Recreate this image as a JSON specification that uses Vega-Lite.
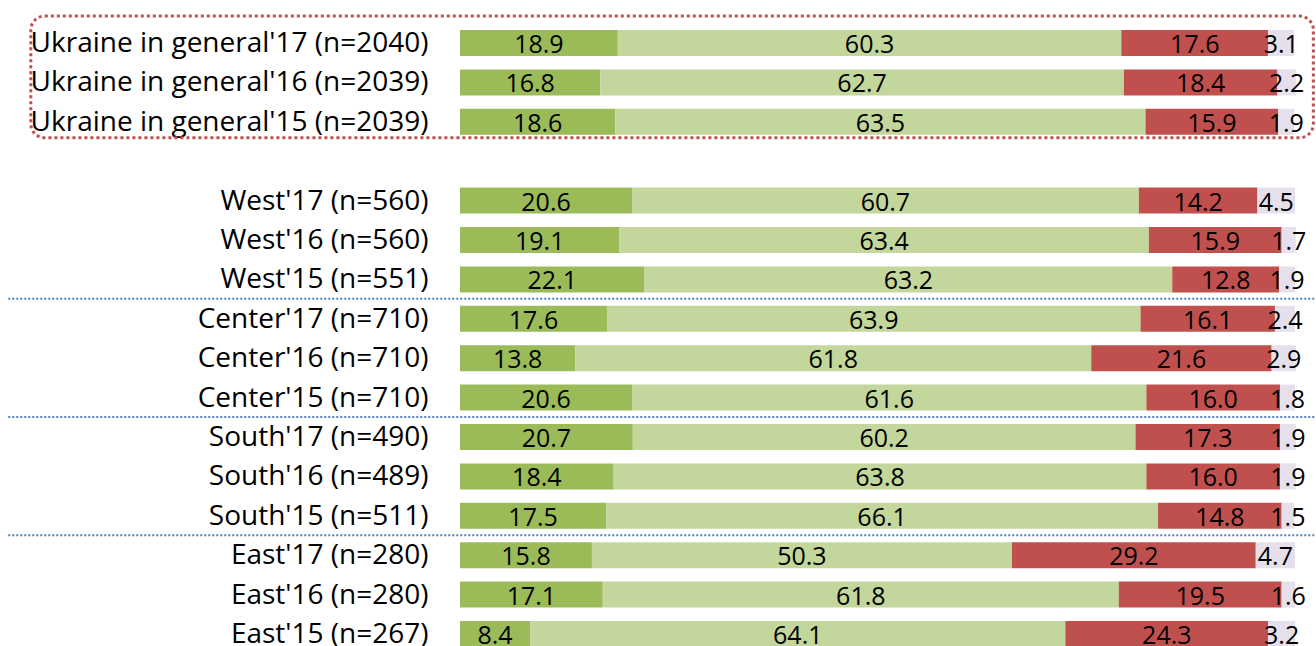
{
  "$schema": "https://vega.github.io/schema/vega-lite/v6.json",
  "width": 835,
  "height": 622.7,
  "autosize": {"type": "none"},
  "padding": {"left": 460, "top": 23.3, "right": 21, "bottom": 0},
  "background": "white",
  "config": {"view": {"stroke": null}, "font": "Open Sans"},
  "datasets": {
    "rows": [
      {"cat": "Ukraine in general'17 (n=2040)", "s1": 18.9, "s2": 60.3, "s3": 17.6, "s4": 3.1},
      {"cat": "Ukraine in general'16 (n=2039)", "s1": 16.8, "s2": 62.7, "s3": 18.4, "s4": 2.2},
      {"cat": "Ukraine in general'15 (n=2039)", "s1": 18.6, "s2": 63.5, "s3": 15.9, "s4": 1.9},
      {"cat": "West'17 (n=560)", "s1": 20.6, "s2": 60.7, "s3": 14.2, "s4": 4.5},
      {"cat": "West'16 (n=560)", "s1": 19.1, "s2": 63.4, "s3": 15.9, "s4": 1.7},
      {"cat": "West'15 (n=551)", "s1": 22.1, "s2": 63.2, "s3": 12.8, "s4": 1.9},
      {"cat": "Center'17 (n=710)", "s1": 17.6, "s2": 63.9, "s3": 16.1, "s4": 2.4},
      {"cat": "Center'16 (n=710)", "s1": 13.8, "s2": 61.8, "s3": 21.6, "s4": 2.9},
      {"cat": "Center'15 (n=710)", "s1": 20.6, "s2": 61.6, "s3": 16.0, "s4": 1.8},
      {"cat": "South'17 (n=490)", "s1": 20.7, "s2": 60.2, "s3": 17.3, "s4": 1.9},
      {"cat": "South'16 (n=489)", "s1": 18.4, "s2": 63.8, "s3": 16.0, "s4": 1.9},
      {"cat": "South'15 (n=511)", "s1": 17.5, "s2": 66.1, "s3": 14.8, "s4": 1.5},
      {"cat": "East'17 (n=280)", "s1": 15.8, "s2": 50.3, "s3": 29.2, "s4": 4.7},
      {"cat": "East'16 (n=280)", "s1": 17.1, "s2": 61.8, "s3": 19.5, "s4": 1.6},
      {"cat": "East'15 (n=267)", "s1": 8.4, "s2": 64.1, "s3": 24.3, "s4": 3.2}
    ],
    "seps": [
      {"cat": "Center'17 (n=710)", "xa": -54.1, "xb": 102.6},
      {"cat": "South'17 (n=490)", "xa": -54.1, "xb": 102.6},
      {"cat": "East'17 (n=280)", "xa": -54.1, "xb": 102.6}
    ],
    "box": [
      {"cat": "Ukraine in general'17 (n=2040)", "cat2": "Ukraine in general'15 (n=2039)", "xa": -51.4, "xb": 102.2}
    ]
  },
  "layer": [
    {
      "data": {"name": "rows"},
      "transform": [
        {"fold": ["s1", "s2", "s3", "s4"], "as": ["seg", "val"]},
        {"stack": "val", "groupby": ["cat"], "sort": [{"field": "seg", "order": "ascending"}], "as": ["x0", "x1"]}
      ],
      "mark": {"type": "bar"},
      "encoding": {
        "y": {
          "field": "cat", "type": "nominal", "sort": null,
          "scale": {
            "domain": ["Ukraine in general'17 (n=2040)", "Ukraine in general'16 (n=2039)", "Ukraine in general'15 (n=2039)", " ",
              "West'17 (n=560)", "West'16 (n=560)", "West'15 (n=551)",
              "Center'17 (n=710)", "Center'16 (n=710)", "Center'15 (n=710)",
              "South'17 (n=490)", "South'16 (n=489)", "South'15 (n=511)",
              "East'17 (n=280)", "East'16 (n=280)", "East'15 (n=267)"],
            "range": [0, 630.4],
            "paddingInner": 0.34,
            "paddingOuter": 0.17
          },
          "axis": {"title": null, "domain": false, "ticks": false, "labelFontSize": 28, "labelColor": "#000000", "labelPadding": 32, "labelLimit": 0, "labelFont": "Open Sans", "labelBaseline": "middle", "labelOffset": 1}
        },
        "x": {"field": "x0", "type": "quantitative", "scale": {"domain": [0, 100], "nice": false, "zero": false}, "axis": null},
        "x2": {"field": "x1"},
        "color": {"field": "seg", "type": "nominal", "scale": {"domain": ["s1", "s2", "s3", "s4"], "range": ["#9BBB59", "#C3D69B", "#C0504D", "#E6E0EC"]}, "legend": null}
      }
    },
    {
      "data": {"name": "rows"},
      "transform": [
        {"fold": ["s1", "s2", "s3", "s4"], "as": ["seg", "val"]},
        {"stack": "val", "groupby": ["cat"], "sort": [{"field": "seg", "order": "ascending"}], "as": ["x0", "x1"]},
        {"calculate": "(datum.x0 + datum.x1) / 2", "as": "mid"}
      ],
      "mark": {"type": "text", "fontSize": 25, "font": "Open Sans", "color": "#000000", "baseline": "middle", "dy": 2},
      "encoding": {
        "y": {"field": "cat", "type": "nominal", "sort": null},
        "x": {"field": "mid", "type": "quantitative"},
        "text": {"field": "val", "type": "quantitative", "format": ".1f"}
      }
    },
    {
      "data": {"name": "seps"},
      "mark": {"type": "rule", "color": "#4F81BD", "strokeWidth": 2, "strokeDash": [2, 2], "yOffset": -20},
      "encoding": {
        "y": {"field": "cat", "type": "nominal", "sort": null},
        "x": {"field": "xa", "type": "quantitative"},
        "x2": {"field": "xb"}
      }
    },
    {
      "data": {"name": "box"},
      "mark": {"type": "rect", "filled": false, "stroke": "#C0504D", "strokeWidth": 3, "strokeDash": [3, 3], "cornerRadius": 14, "yOffset": -27, "y2Offset": 16},
      "encoding": {
        "y": {"field": "cat", "type": "nominal", "sort": null},
        "y2": {"field": "cat2"},
        "x": {"field": "xa", "type": "quantitative"},
        "x2": {"field": "xb"}
      }
    }
  ]
}
